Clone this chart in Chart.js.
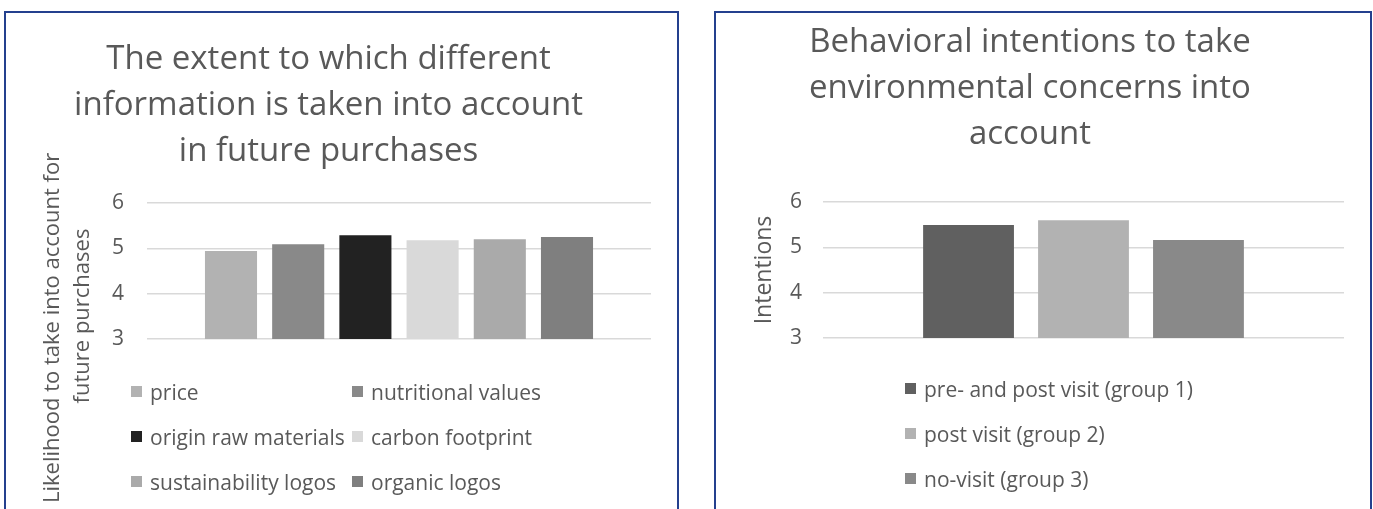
<!DOCTYPE html>
<html>
<head>
<meta charset="utf-8">
<script src="https://cdn.jsdelivr.net/npm/chart.js@4/dist/chart.umd.min.js"></script>
<style>
  html, body { margin: 0; padding: 0; background: #fff; }
  body { width: 1373px; height: 509px; overflow: hidden; position: relative; font-family: 'Open Sans', sans-serif; }
  .panel { position: absolute; top: 11px; height: 560px; border: 2px solid #24408e; box-sizing: border-box; background: #fff; }
  #panelLeft { left: 4px; width: 675px; }
  #panelRight { left: 714px; width: 658px; }
  .panel canvas { position: absolute; left: 0; top: 0; }
  .legend { position: absolute; display: grid; color: #595959; font-size: 21px; }
  .legend .item { display: flex; align-items: center; height: 45px; white-space: nowrap; }
  .legend .box { width: 11px; height: 11px; margin-right: 8px; flex: none; }
  #legendLeft { left: 125px; top: 356px; grid-template-columns: 221px 221px; }
  #legendRight { left: 189px; top: 353px; grid-template-columns: 330px; }
</style>
</head>
<body>
<div class="panel" id="panelLeft">
  <canvas id="chartLeft" width="671" height="556"></canvas>
  <div class="legend" id="legendLeft"></div>
</div>
<div class="panel" id="panelRight">
  <canvas id="chartRight" width="654" height="556"></canvas>
  <div class="legend" id="legendRight"></div>
</div>
<script>
// data
const leftTitle = ['The extent to which different', 'information is taken into account', 'in future purchases'];
const leftAxisTitle = ['Likelihood to take into account for', 'future purchases'];
const leftSeries = ['price', 'nutritional values', 'origin raw materials', 'carbon footprint', 'sustainability logos', 'organic logos'];
const leftValues = [4.94, 5.09, 5.29, 5.18, 5.20, 5.25];

const rightTitle = ['Behavioral intentions to take', 'environmental concerns into', 'account'];
const rightAxisTitle = 'Intentions';
const rightSeries = ['pre- and post visit (group 1)', 'post visit (group 2)', 'no-visit (group 3)'];
const rightValues = [5.49, 5.60, 5.16];

const yTicks = [3, 4, 5, 6];

const leftColors = ['#b2b2b2', '#898989', '#222222', '#d9d9d9', '#aaaaaa', '#7f7f7f'];
const rightColors = ['#606060', '#b2b2b2', '#898989'];

Chart.defaults.font.family = "'Open Sans', sans-serif";
Chart.defaults.color = '#595959';
Chart.defaults.animation = false;

// left chart has its two-line axis title placed lower than the plot centre
const sideTitle = {
    id: 'sideTitle',
    afterDraw(chart, args, opts) {
        if (!opts.lines) return;
        const ctx = chart.ctx;
        ctx.save();
        ctx.font = "22px 'Open Sans', sans-serif";
        ctx.fillStyle = '#595959';
        ctx.textBaseline = 'middle';
        ctx.translate(47, 490);
        ctx.rotate(-Math.PI / 2);
        ctx.textAlign = 'left';
        ctx.fillText(opts.lines[0], 0, 0);
        ctx.textAlign = 'center';
        ctx.fillText(opts.lines[1], 490 - 303, 30);
        ctx.restore();
    }
};

function makeChart(id, title, series, values, colors, cfg) {
    const datasets = series.map((name, i) => ({
        label: name,
        data: [values[i]],
        backgroundColor: colors[i],
        borderWidth: 0,
        categoryPercentage: cfg.catPct,
        barPercentage: cfg.barPct
    }));
    return new Chart(document.getElementById(id), {
        type: 'bar',
        data: { labels: [''], datasets: datasets },
        options: {
            responsive: false,
            layout: { padding: { left: 0, right: cfg.padRight, top: 0, bottom: cfg.padBottom } },
            plugins: {
                legend: { display: false },
                tooltip: { enabled: false },
                title: {
                    display: true,
                    text: title,
                    color: '#595959',
                    font: { size: 33, weight: 'normal', lineHeight: 1.394 },
                    padding: { top: cfg.titleTop, bottom: cfg.titleBottom }
                },
                sideTitle: { lines: cfg.sideLines }
            },
            scales: {
                x: { display: false },
                y: {
                    min: yTicks[0],
                    max: yTicks[yTicks.length - 1],
                    afterBuildTicks: s => { s.ticks = yTicks.map(v => ({ value: v })); },
                    afterFit: s => { s.width = cfg.axisWidth; },
                    border: { display: false },
                    grid: { color: '#d9d9d9', lineWidth: 1.5, drawTicks: false },
                    ticks: { padding: cfg.tickPad, font: { size: 21 }, color: '#595959' },
                    title: {
                        display: !!cfg.axisTitle,
                        text: cfg.axisTitle || '',
                        color: '#595959',
                        font: { size: 23 },
                        padding: { top: 35, bottom: 0 }
                    }
                }
            }
        },
        plugins: [sideTitle]
    });
}

function buildLegend(el, chart) {
    chart.data.datasets.forEach(ds => {
        const item = document.createElement('div');
        item.className = 'item';
        const box = document.createElement('span');
        box.className = 'box';
        box.style.background = ds.backgroundColor;
        const txt = document.createElement('span');
        txt.textContent = ds.label;
        item.appendChild(box);
        item.appendChild(txt);
        el.appendChild(item);
    });
}

const chartLeft = makeChart('chartLeft', leftTitle, leftSeries, leftValues, leftColors, {
    catPct: 0.8, barPct: 0.775, padRight: 26, padBottom: 230,
    titleTop: 24, titleBottom: 28, axisWidth: 141, tickPad: 23,
    sideLines: leftAxisTitle
});
const chartRight = makeChart('chartRight', rightTitle, rightSeries, rightValues, rightColors, {
    catPct: 0.662, barPct: 0.79, padRight: 26, padBottom: 231,
    titleTop: 7, titleBottom: 44, axisWidth: 107, tickPad: 21,
    axisTitle: rightAxisTitle
});

buildLegend(document.getElementById('legendLeft'), chartLeft);
buildLegend(document.getElementById('legendRight'), chartRight);
</script>
</body>
</html>
